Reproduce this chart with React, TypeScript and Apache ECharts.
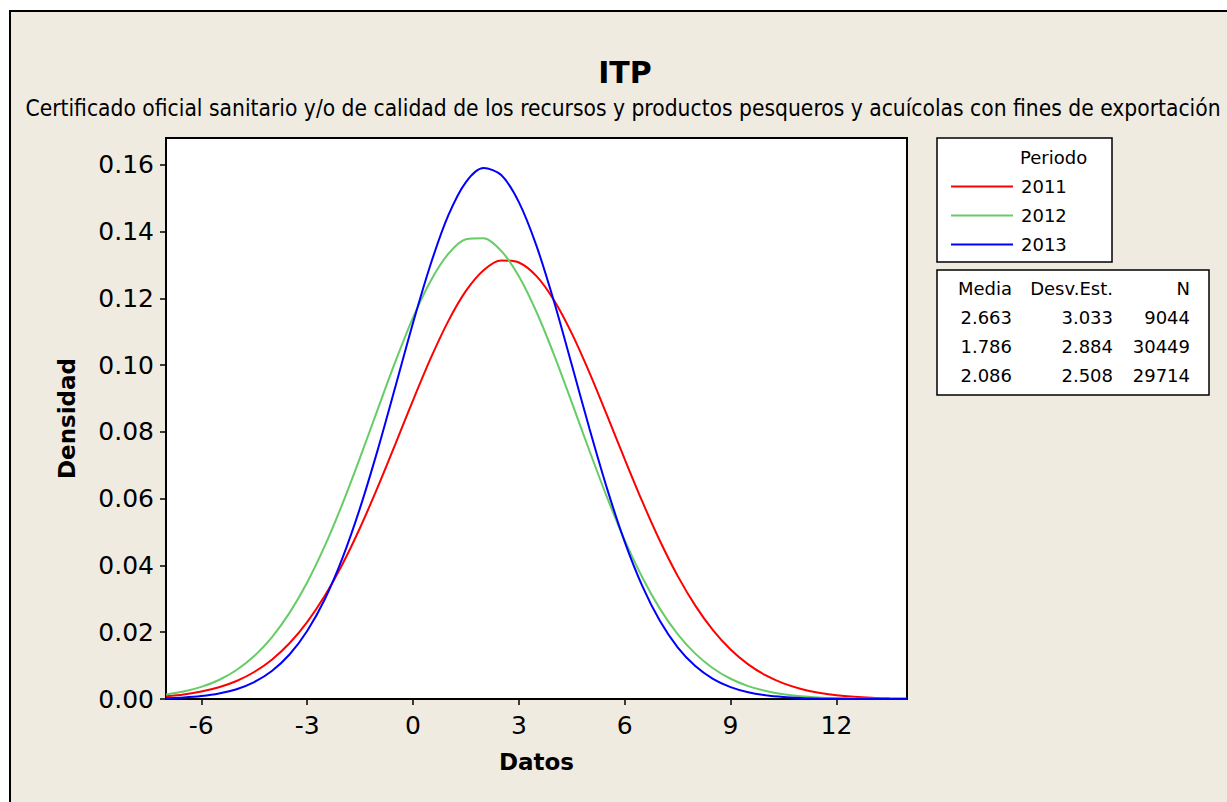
import React, { useEffect, useRef } from "react";
import * as echarts from "echarts";

const xValues = [
  -7, -6.5, -6, -5.5, -5, -4.5, -4, -3.5, -3, -2.5, -2, -1.5, -1, -0.5, 0, 0.5, 1, 1.5, 2, 2.5, 3,
  3.5, 4, 4.5, 5, 5.5, 6, 6.5, 7, 7.5, 8, 8.5, 9, 9.5, 10, 10.5, 11, 11.5, 12, 12.5, 13, 13.5, 14,
];
const density2011 = [
  0.00082, 0.00137, 0.00223, 0.00352, 0.0054, 0.00809, 0.01178, 0.01669, 0.02302, 0.03089, 0.04034,
  0.05128, 0.06343, 0.07635, 0.08945, 0.102, 0.11317, 0.1222, 0.12843, 0.13134, 0.13072, 0.12662,
  0.11935, 0.10949, 0.09774, 0.08492, 0.07181, 0.05909, 0.04731, 0.03687, 0.02796, 0.02064, 0.01483,
  0.01037, 0.00705, 0.00467, 0.00301, 0.00189, 0.00115, 0.00068, 0.00039, 0.00022, 0.00012,
];
const density2012 = [
  0.00134, 0.00223, 0.00362, 0.00569, 0.00868, 0.01286, 0.01848, 0.02578, 0.0349, 0.04584, 0.05843,
  0.07228, 0.08675, 0.101, 0.1142, 0.1252, 0.1333, 0.1377, 0.138, 0.1342, 0.1266, 0.1159, 0.103,
  0.08884, 0.07434, 0.06037, 0.04756, 0.03638, 0.02699, 0.01943, 0.01358, 0.00921, 0.00606, 0.00387,
  0.0024, 0.00144, 0.00084, 0.00048, 0.00026, 0.00014, 0.00007, 0.00003, 0.00002,
];
const density2013 = [
  0.00023, 0.00045, 0.00088, 0.00164, 0.00294, 0.00506, 0.00837, 0.01332, 0.02035, 0.02988, 0.0422,
  0.05723, 0.0746, 0.09348, 0.1126, 0.1302, 0.1448, 0.1548, 0.159, 0.1569, 0.1488, 0.1357, 0.1189,
  0.1001, 0.08099, 0.06299, 0.04707, 0.0338, 0.02333, 0.01548, 0.00986, 0.00604, 0.00356, 0.00201,
  0.00109, 0.00057, 0.00029, 0.00014, 0.00006, 0.00003, 0.00001, 0, 0,
];

const years = ["2011", "2012", "2013"];
const colors = ["#FF0000", "#66CC66", "#0000FF"];
const means = ["2.663", "1.786", "2.086"];
const stdDevs = ["3.033", "2.884", "2.508"];
const counts = ["9044", "30449", "29714"];
const xTicks = [-6, -3, 0, 3, 6, 9, 12];
const yTicks = [0, 0.02, 0.04, 0.06, 0.08, 0.1, 0.12, 0.14, 0.16];

const FONT = "'DejaVu Sans', Verdana, sans-serif";
const SUBFONT = "'DejaVu Sans Condensed', 'DejaVu Sans', sans-serif";
const BEIGE = "#EFEBE1";

export default function App() {
  const ref = useRef<HTMLDivElement>(null);

  useEffect(() => {
    if (!ref.current) return;
    const chart = echarts.init(ref.current, null, { renderer: "svg" });
    const allSeries = [density2011, density2012, density2013];

    const statRows = [
      { y: 288, cells: ["Media", "Desv.Est.", "N"] },
      ...years.map((_, i) => ({ y: 317 + i * 29, cells: [means[i], stdDevs[i], counts[i]] })),
    ];
    const colRight = [1012, 1113, 1190];
    const statTexts: any[] = [];
    statRows.forEach((r) => {
      r.cells.forEach((c, j) => {
        statTexts.push({
          type: "text",
          x: colRight[j],
          y: r.y,
          style: {
            text: c,
            fill: "#000",
            font: `18px ${FONT}`,
            textAlign: "right",
            textVerticalAlign: "middle",
          },
        });
      });
    });

    chart.setOption({
      animation: false,
      backgroundColor: "#FFFFFF",
      textStyle: { fontFamily: FONT },
      title: [
        {
          text: "ITP",
          left: 620,
          top: 52,
          textAlign: "center",
          textStyle: { fontSize: 30, fontWeight: "bold", color: "#000", fontFamily: FONT },
        },
        {
          text: "Certificado oficial sanitario y/o de calidad de los recursos y productos pesqueros y acuícolas con fines de exportación",
          left: 618,
          top: 91,
          textAlign: "center",
          textStyle: { fontSize: 22.6, fontWeight: "normal", color: "#000", fontFamily: SUBFONT },
        },
      ],
      grid: {
        left: 166,
        top: 138,
        width: 741,
        height: 561,
        show: true,
        backgroundColor: "#FFFFFF",
        borderColor: "#000",
        borderWidth: 2,
        containLabel: false,
      },
      xAxis: {
        type: "value",
        min: -7,
        max: 14,
        name: "Datos",
        nameLocation: "middle",
        nameGap: 51,
        nameTextStyle: { fontSize: 23, fontWeight: "bold", color: "#000", fontFamily: FONT },
        axisLine: { show: true, onZero: false, lineStyle: { color: "#000", width: 2 } },
        axisTick: { show: true, length: 6, lineStyle: { color: "#000", width: 1.5 }, customValues: xTicks },
        axisLabel: {
          customValues: xTicks,
          fontSize: 25,
          color: "#000",
          margin: 14,
          fontFamily: FONT,
        },
        splitLine: { show: false },
      },
      yAxis: {
        type: "value",
        min: 0,
        max: 0.168,
        name: "Densidad",
        nameLocation: "middle",
        nameRotate: 90,
        nameGap: 88,
        nameTextStyle: { fontSize: 23, fontWeight: "bold", color: "#000", fontFamily: FONT },
        axisLine: { show: true, onZero: false, lineStyle: { color: "#000", width: 2 } },
        axisTick: { show: true, length: 6, lineStyle: { color: "#000", width: 1.5 }, customValues: yTicks },
        axisLabel: {
          customValues: yTicks,
          fontSize: 25,
          color: "#000",
          margin: 12,
          fontFamily: FONT,
          formatter: (v: number) => v.toFixed(2),
        },
        splitLine: { show: false },
      },
      legend: {
        orient: "vertical",
        left: 946,
        top: 171,
        icon: "rect",
        itemWidth: 62,
        itemHeight: 2,
        itemGap: 8,
        data: years,
        textStyle: { fontSize: 18, color: "#000", fontFamily: FONT, padding: [0, 0, 0, 3], lineHeight: 21 },
        selectedMode: false,
      },
      series: years.map((name, i) => ({
        name,
        type: "line",
        data: xValues.map((x, k) => [x, allSeries[i][k]]),
        smooth: 0.3,
        showSymbol: false,
        symbol: "none",
        lineStyle: { color: colors[i], width: 2 },
        itemStyle: { color: colors[i] },
        z: 3 + i,
      })),
      graphic: [
        {
          type: "rect",
          z: -10,
          shape: { x: 10, y: 11, width: 1240, height: 800 },
          style: { fill: BEIGE, stroke: "#000", lineWidth: 2 },
          silent: true,
        },
        {
          type: "rect",
          shape: { x: 937, y: 138, width: 175, height: 124 },
          style: { fill: "#FFFFFF", stroke: "#000", lineWidth: 1.5 },
          z: -5,
          silent: true,
        },
        {
          type: "text",
          x: 1020,
          y: 157,
          style: { text: "Periodo", fill: "#000", font: `18px ${FONT}`, textVerticalAlign: "middle" },
        },
        {
          type: "rect",
          shape: { x: 937, y: 270, width: 272, height: 125 },
          style: { fill: "#FFFFFF", stroke: "#000", lineWidth: 1.5 },
          z: -5,
          silent: true,
        },
        ...statTexts,
      ],
    });

    return () => chart.dispose();
  }, []);

  return (
    <div
      ref={ref}
      style={{ position: "absolute", left: 0, top: 0, width: 1227, height: 802 }}
    />
  );
}
